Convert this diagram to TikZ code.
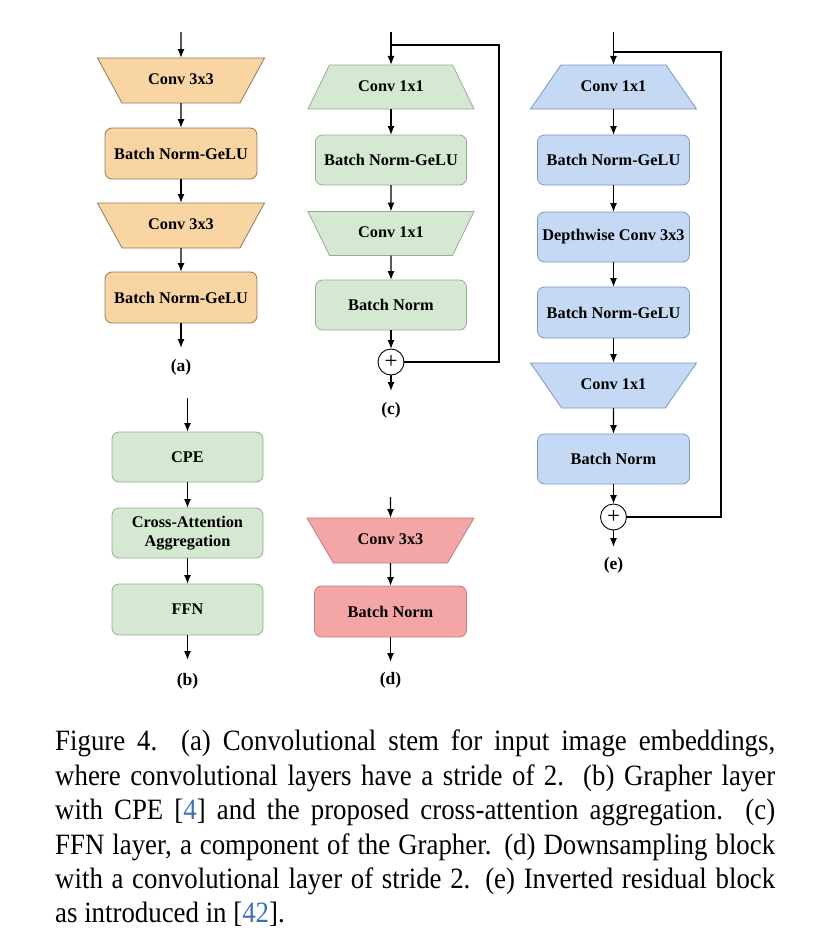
\documentclass[tikz,border=0pt]{standalone}
\usepackage{fontspec}
\setmainfont{Liberation Serif}
\newfontfamily\capfont[FakeStretch=0.91]{Liberation Serif}
\usetikzlibrary{shapes.geometric,arrows.meta}
\definecolor{orF}{HTML}{F8D5A3}
\definecolor{orD}{HTML}{8C7A60}
\definecolor{grF}{HTML}{D5E8D2}
\definecolor{grD}{HTML}{93B08E}
\definecolor{blF}{HTML}{C6D9F4}
\definecolor{blD}{HTML}{7A97C4}
\definecolor{rdF}{HTML}{F4A6A6}
\definecolor{rdD}{HTML}{C47C7C}
\definecolor{citeblue}{HTML}{3D6FB0}
\begin{document}
\begin{tikzpicture}[x=1pt,y=-1pt,
  lbl/.style={font=\fontsize{16.3}{18}\selectfont\bfseries},
  sublbl/.style={font=\fontsize{17.5}{19}\selectfont\bfseries},
  box/.style={lbl, draw, rounded corners=7pt, minimum width=152pt, minimum height=51pt, inner sep=0pt, outer sep=0pt, line width=0.8pt, align=center},
  trap/.style={lbl, draw, trapezium, trapezium stretches body=true, text height=11pt, text depth=3pt, inner xsep=0pt, inner ysep=15.5pt, outer sep=0pt, line width=0.8pt},
  arr/.style={line width=1.3pt, -{Latex[length=9pt,width=7pt]}},
  wire/.style={line width=1.3pt},
  plus/.style={circle, draw, fill=white, line width=0.9pt, minimum size=26pt, inner sep=0pt, outer sep=0pt, font=\fontsize{23}{24}\selectfont},
  orbox/.style={box, fill=orF, draw=orD},
  grbox/.style={box, fill=grF, draw=grD},
  blbox/.style={box, fill=blF, draw=blD},
  rdbox/.style={box, fill=rdF, draw=rdD}
]
\useasboundingbox (0,0) rectangle (825,943);

% ---------- (a) ----------
\coordinate (ainA) at (181,32);
\node[trap, fill=orF, draw=orD, trapezium left angle=118.6, trapezium right angle=118.6, minimum width=167pt] (convA1) at (181,80.5) {Conv 3x3};
\node[orbox] (bnA1) at (181,153.5) {Batch Norm-GeLU};
\node[trap, fill=orF, draw=orD, trapezium left angle=118.6, trapezium right angle=118.6, minimum width=167pt] (convA2) at (181,225.5) {Conv 3x3};
\node[orbox] (bnA2) at (181,297.5) {Batch Norm-GeLU};
\coordinate (aoutA) at (181,348);
\node[sublbl] (labA) at (181,367) {(a)};
\draw[arr] (ainA) -- (convA1);
\draw[arr] (convA1) -- (bnA1);
\draw[arr] (bnA1) -- (convA2);
\draw[arr] (convA2) -- (bnA2);
\draw[arr] (bnA2) -- (aoutA);

% ---------- (c) ----------
\coordinate (cinC) at (391,32);
\coordinate (csplitC) at (391,45);
\node[trap, fill=grF, draw=grD, trapezium left angle=64, trapezium right angle=64, minimum width=166pt, inner ysep=15pt] (convC1) at (391,87) {Conv 1x1};
\node[grbox, minimum width=151pt, minimum height=50pt] (bnC1) at (391,160) {Batch Norm-GeLU};
\node[trap, fill=grF, draw=grD, trapezium left angle=116, trapezium right angle=116, minimum width=166pt, inner ysep=15pt] (convC2) at (391,233.5) {Conv 1x1};
\node[grbox, minimum width=151pt, minimum height=50pt] (bnC2) at (391,305) {Batch Norm};
\node[plus] (plusC) at (391,362) {+};
\coordinate (coutC) at (391,391);
\node[sublbl] (labC) at (391,410) {(c)};
\draw[arr] (cinC) -- (convC1);
\draw[arr] (convC1) -- (bnC1);
\draw[arr] (bnC1) -- (convC2);
\draw[arr] (convC2) -- (bnC2);
\draw[arr] (bnC2) -- (plusC);
\draw[arr] (plusC) -- (coutC);
\draw[wire] (csplitC) -- ++(108,0) |- (plusC.east);

% ---------- (e) ----------
\coordinate (einE) at (613.5,32);
\coordinate (esplitE) at (613.5,52);
\node[trap, fill=blF, draw=blD, trapezium left angle=55.3, trapezium right angle=55.3, minimum width=166pt, inner ysep=15pt] (convE1) at (613.5,87) {Conv 1x1};
\node[blbox, minimum height=50pt] (bnE1) at (613.5,160) {Batch Norm-GeLU};
\node[blbox, minimum height=50pt] (dwE) at (613.5,237) {Depthwise Conv 3x3};
\node[blbox] (bnE2) at (613.5,312.5) {Batch Norm-GeLU};
\node[trap, fill=blF, draw=blD, trapezium left angle=124.7, trapezium right angle=124.7, minimum width=166pt] (convE2) at (613.5,385.5) {Conv 1x1};
\node[blbox, minimum height=50pt] (bnE3) at (613.5,459) {Batch Norm};
\node[plus] (plusE) at (613.5,517) {+};
\coordinate (eoutE) at (613.5,547);
\node[sublbl] (labE) at (613.5,565) {(e)};
\draw[arr] (einE) -- (convE1);
\draw[arr] (convE1) -- (bnE1);
\draw[arr] (bnE1) -- (dwE);
\draw[arr] (dwE) -- (bnE2);
\draw[arr] (bnE2) -- (convE2);
\draw[arr] (convE2) -- (bnE3);
\draw[arr] (bnE3) -- (plusE);
\draw[arr] (plusE) -- (eoutE);
\draw[wire] (esplitE) -- ++(107.5,0) |- (plusE.east);

% ---------- (b) ----------
\coordinate (binB) at (187.5,398);
\node[grbox, minimum width=151pt, minimum height=50pt] (cpeB) at (187.5,457) {CPE};
\node[grbox, minimum width=151pt, minimum height=50pt, font=\fontsize{16.3}{19}\selectfont\bfseries] (caaB) at (187.5,533) {Cross-Attention\\Aggregation};
\node[grbox, minimum width=151pt] (ffnB) at (187.5,609.5) {FFN};
\coordinate (boutB) at (187.5,660);
\node[sublbl] (labB) at (187.5,681) {(b)};
\draw[arr] (binB) -- (cpeB);
\draw[arr] (cpeB) -- (caaB);
\draw[arr] (caaB) -- (ffnB);
\draw[arr] (ffnB) -- (boutB);

% ---------- (d) ----------
\coordinate (dinD) at (390.5,497);
\node[trap, fill=rdF, draw=rdD, trapezium left angle=120.5, trapezium right angle=120.5, minimum width=167pt] (convD) at (390.5,540.5) {Conv 3x3};
\node[rdbox] (bnD) at (390.5,611.5) {Batch Norm};
\coordinate (doutD) at (390.5,662);
\node[sublbl] (labD) at (390.5,680) {(d)};
\draw[arr] (dinD) -- (convD);
\draw[arr] (convD) -- (bnD);
\draw[arr] (bnD) -- (doutD);

% ---------- caption ----------
\node[anchor=north west, inner sep=0pt, text width=720pt, align=justify,
      font=\capfont\fontsize{29.5}{34.4}\selectfont] (cap) at (55,730)
{Figure 4.\ \ (a) Convolutional stem for input image embeddings,\linebreak
where convolutional layers have a stride of 2.\ \ (b) Grapher layer\linebreak
with CPE [{\color{citeblue}4}] and the proposed cross-attention aggregation.\ \ (c)\linebreak
FFN layer, a component of the Grapher. (d) Downsampling block\linebreak
with a convolutional layer of stride 2. (e) Inverted residual block\linebreak
as introduced in [{\color{citeblue}42}].};
\end{tikzpicture}
\end{document}
